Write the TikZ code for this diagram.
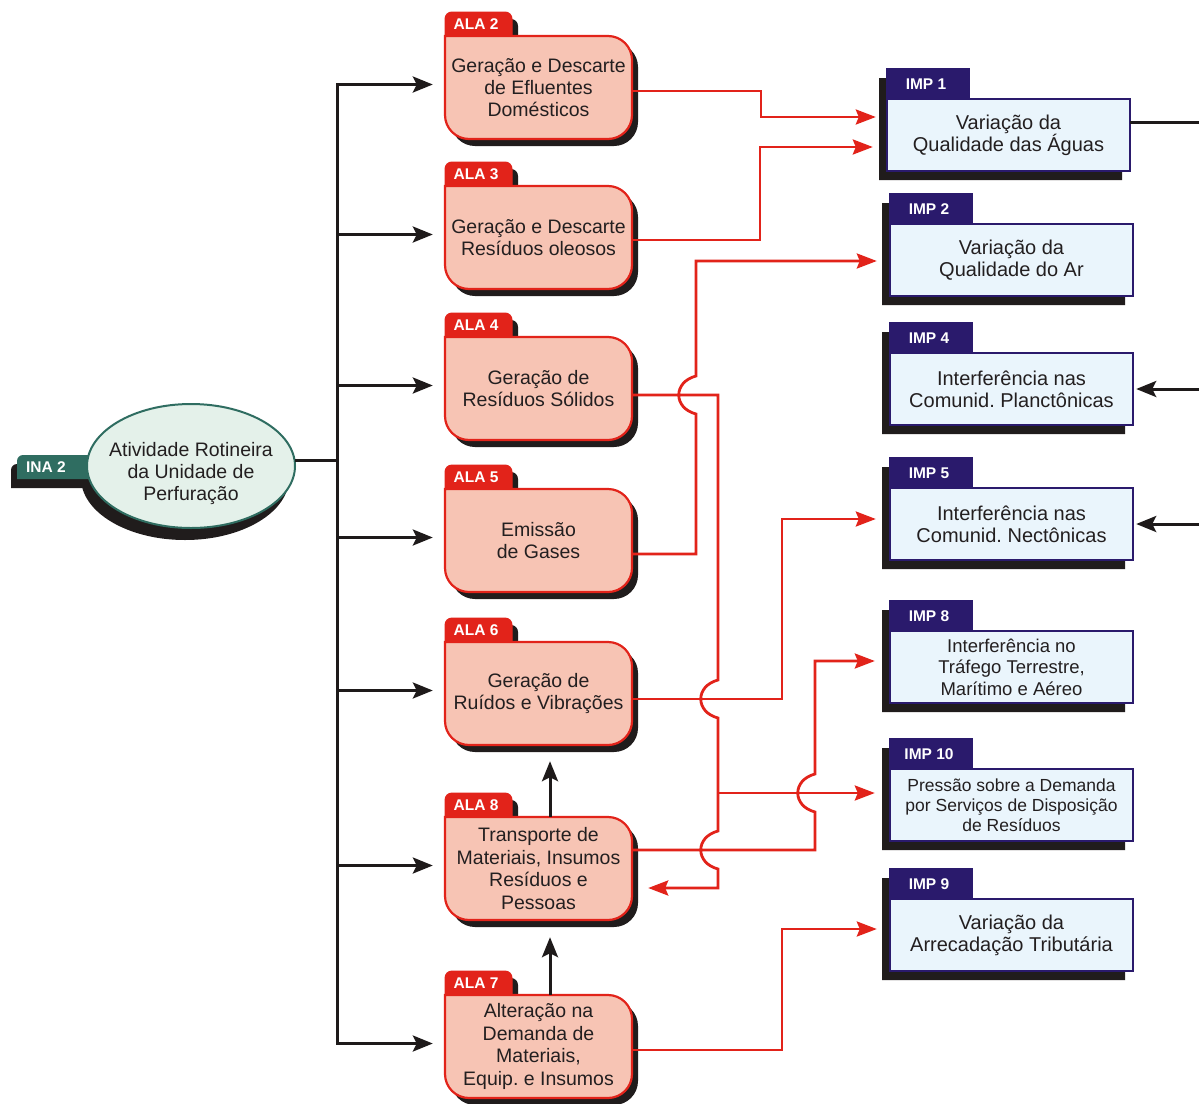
\documentclass[tikz,border=0pt]{standalone}
\usepackage{fontspec}
\setmainfont{Liberation Sans}
\usetikzlibrary{arrows.meta,calc}
\definecolor{alafill}{HTML}{F7C4B4}
\definecolor{redc}{HTML}{E2231A}
\definecolor{shd}{HTML}{201C1C}
\definecolor{navy}{HTML}{2A1A6C}
\definecolor{impfill}{HTML}{EAF5FC}
\definecolor{tealc}{HTML}{2F6D61}
\definecolor{inafill}{HTML}{E4F1EA}
\definecolor{txt}{HTML}{231F20}
\definecolor{blk}{HTML}{1E1A1A}
\frenchspacing
\tikzset{
 alatext/.style={inner sep=0pt, minimum width=187pt, minimum height=103pt, align=center, font=\fontsize{19.5}{22.4}\selectfont, text=txt},
 tabtext/.style={font=\bfseries\fontsize{15.5}{17}\selectfont, text=white, inner sep=0pt},
 imptext/.style={inner sep=0pt, minimum width=243pt, minimum height=72pt, align=center, font=\fontsize{20}{22}\selectfont, text=txt},
 redarr/.style={draw=redc, line width=2.8pt, -{Stealth[length=20pt,width=15pt,inset=3pt]}},
 blkarr/.style={draw=blk, line width=3pt, -{Stealth[length=20pt,width=16pt,inset=4pt]}},
 blkln/.style={draw=blk, line width=3pt},
}
\newcommand\alabox[4]{%
\begin{scope}[shift={(0,-#2)}]
 \fill[shd,shift={(6,-7)}] (445,0) -- (445,17) arc[start angle=180,end angle=90,radius=7] -- (505,24) arc[start angle=90,end angle=0,radius=7] -- (512,0) -- (608,0) arc[start angle=90,end angle=0,radius=24] -- (632,-79) arc[start angle=0,end angle=-90,radius=24] -- (469,-103) arc[start angle=270,end angle=180,radius=24] -- cycle;
 \filldraw[fill=alafill, draw=redc, line width=2.2pt] (445,0) -- (608,0) arc[start angle=90,end angle=0,radius=24] -- (632,-79) arc[start angle=0,end angle=-90,radius=24] -- (469,-103) arc[start angle=270,end angle=180,radius=24] -- cycle;
 \filldraw[fill=redc, draw=redc, line width=1pt] (445,0) -- (445,17) arc[start angle=180,end angle=90,radius=7] -- (505,24) arc[start angle=90,end angle=0,radius=7] -- (512,0) -- cycle;
 \node[tabtext] (#1tab) at (476,12) {#3};
 \node[alatext] (#1) at (538.5,-51.5) {#4};
\end{scope}}
\newcommand\impbox[6]{%
\begin{scope}[shift={(#2,-#3)}]
 \fill[shd,shift={(-8,-9)}] (890,0) rectangle (1133,-72) (890,0) rectangle (972,30);
 \filldraw[fill=navy, draw=navy, line width=1.5pt] (890,0) rectangle (972,30);
 \filldraw[fill=impfill, draw=navy, line width=2pt] (890,0) rectangle (1133,-72);
 \node[tabtext] (#1tab) at (929,15) {#4};
 \node[imptext,#6] (#1) at (1011.5,-36) {#5};
\end{scope}}
\begin{document}
\begin{tikzpicture}[x=1pt,y=1pt]
\useasboundingbox (0,0) rectangle (1199,-1103);
\fill[white] (0,0) rectangle (1199,-1103);

% INA 2
\fill[shd,shift={(-6,-9)}] (17,-479) -- (17,-461) arc[start angle=180,end angle=90,radius=6] -- (130,-455) -- (130,-479) -- cycle;
\fill[shd] (185,-478) ellipse [x radius=104, y radius=62];
\fill[tealc] (17,-479) -- (17,-461) arc[start angle=180,end angle=90,radius=6] -- (130,-455) -- (130,-479) -- cycle;
\filldraw[fill=inafill, draw=tealc, line width=2pt] (191,-466) ellipse [x radius=104, y radius=62];
\node[tabtext] (inatab) at (46,-467) {INA 2};
\node[inner sep=0pt, minimum width=208pt, minimum height=124pt, align=center, font=\fontsize{19.5}{22}\selectfont, text=txt] (ina) at (191,-473) {Atividade Rotineira\\da Unidade de\\Perfuração};

% ALA boxes
\alabox{a2}{36}{ALA 2}{Geração e Descarte\\de Efluentes\\Domésticos}
\alabox{a3}{186}{ALA 3}{Geração e Descarte\\Resíduos oleosos}
\alabox{a4}{337}{ALA 4}{Geração de\\Resíduos Sólidos}
\alabox{a5}{489}{ALA 5}{Emissão\\de Gases}
\alabox{a6}{642}{ALA 6}{Geração de\\Ruídos e Vibrações}
\alabox{a8}{817}{ALA 8}{Transporte de\\Materiais, Insumos\\Resíduos e\\Pessoas}
\alabox{a7}{995}{ALA 7}{Alteração na\\Demanda de\\Materiais,\\Equip. e Insumos}

% IMP boxes
\impbox{i1}{-3}{99}{IMP 1}{Variação da\\Qualidade das Águas}{}
\impbox{i2}{0}{224}{IMP 2}{Variação da\\Qualidade do Ar}{}
\impbox{i4}{0}{353}{IMP 4}{Interferência nas\\Comunid. Planctônicas}{}
\impbox{i5}{0}{488}{IMP 5}{Interferência nas\\Comunid. Nectônicas}{}
\impbox{i8}{0}{631}{IMP 8}{Interferência no\\Tráfego Terrestre,\\Marítimo e Aéreo}{font=\fontsize{18.5}{21.5}\selectfont}
\impbox{i10}{0}{769}{IMP 10}{Pressão sobre a Demanda\\por Serviços de Disposição\\de Resíduos}{font=\fontsize{17.5}{20}\selectfont}
\impbox{i9}{0}{899}{IMP 9}{Variação da\\Arrecadação Tributária}{}

% black spine
\coordinate (sp) at (337,-460);
\foreach \n in {a2,a3,a4,a5,a6,a8,a7}{
  \coordinate (e\n) at ([xshift=-12pt,yshift=3pt]\n.west);
  \draw[blkarr] (sp |- e\n) -- (e\n);
}
\draw[blkln] ([yshift=13pt]ina.east) -- (sp);
\draw[blkln, line cap=rect] (sp |- ea2) -- (sp |- ea7);
\draw[blkarr] ([xshift=11.5pt]a7.north) -- ([xshift=11.5pt,yshift=-17pt]a8.south);
\draw[blkarr] ([xshift=11.5pt]a8.north) -- ([xshift=11.5pt,yshift=-16pt]a6.south);

% right side
\coordinate (r1) at (1199,-122);
\coordinate (r4) at (1199,-389);
\coordinate (r5) at (1199,-524);
\draw[blkln] ([yshift=13pt]i1.east) -- (r1);
\draw[blkarr] (r4) -- ([xshift=3pt]i4.east);
\draw[blkarr] (r5) -- ([xshift=3pt]i5.east);

% red connectors
\coordinate (t1) at ([xshift=-11pt,yshift=18pt]i1.west);
\coordinate (t2) at ([xshift=-14pt,yshift=-12pt]i1.west);
\coordinate (t3) at ([xshift=-13pt,yshift=-1pt]i2.west);
\coordinate (t5) at ([xshift=-14pt,yshift=5pt]i5.west);
\coordinate (t6) at ([xshift=-15pt,yshift=6pt]i8.west);
\coordinate (t10) at ([xshift=-15pt,yshift=12pt]i10.west);
\coordinate (t7) at ([xshift=-13pt,yshift=6pt]i9.west);
\coordinate (t8) at ([xshift=16pt,yshift=-19.5pt]a8.east);
\coordinate (j4) at (718,-793);

\draw[redarr] ([yshift=-3.5pt]a2.east) -| (761,-117) -- (t1);
\draw[redarr] ([yshift=-2.5pt]a3.east) -| (760,-147) -- (t2);
\draw[redarr] ([yshift=-13.5pt]a5.east) -- (696,-554) -- (696,-414) .. controls (673,-408) and (673,-382) .. (696,-376) -- (696,-261) -- (t3);
\draw[redarr] ([yshift=-6.5pt]a4.east) -- (718,-395) -- (718,-680) .. controls (695,-686) and (695,-712) .. (718,-718) -- (718,-831) .. controls (695,-837) and (695,-863) .. (718,-869) -- (718,-888) -- (t8);
\draw[redarr] (j4) -- (t10);
\draw[redarr] ([yshift=-5.5pt]a6.east) -| (782,-519) -- (t5);
\draw[redarr] ([yshift=18.5pt]a8.east) -- (815,-850) -- (815,-812) .. controls (792,-806) and (792,-780) .. (815,-774) -- (815,-661) -- (t6);
\draw[redarr] ([yshift=-3.5pt]a7.east) -| (782,-929) -- (t7);
\end{tikzpicture}
\end{document}
